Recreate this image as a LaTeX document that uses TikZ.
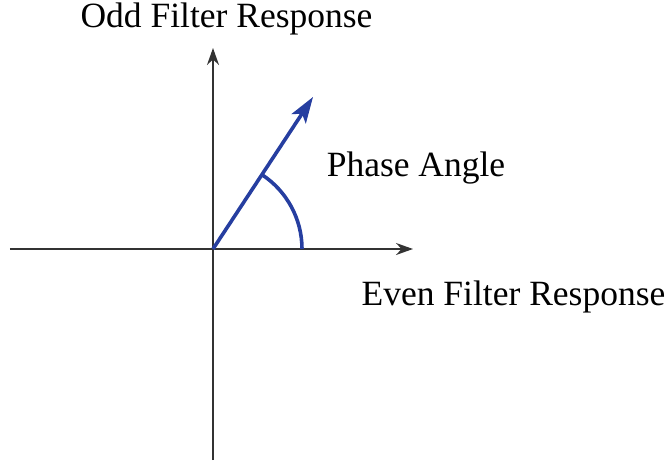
\documentclass[tikz,border=0pt]{standalone}
\usepackage{fontspec}
\setmainfont{Liberation Serif}
\usetikzlibrary{arrows.meta}
\definecolor{phaseblue}{RGB}{38,62,160}
\tikzset{axis/.style={line width=1.6pt,black!80,-{Stealth[length=17pt,width=12pt]}},
  vec/.style={line width=3.6pt,phaseblue,-{Stealth[length=26pt,width=17pt,inset=6pt]}},
  lbl/.style={font=\fontsize{35.5}{40}\selectfont,anchor=base,inner sep=0pt}}
\begin{document}
\begin{tikzpicture}[x=1pt,y=1pt]
\useasboundingbox (-213,-211) rectangle (455,249);
% Axes
\coordinate (O) at (0,0);
\coordinate (xl) at (-203,0);
\coordinate (xr) at (200,0);
\coordinate (yb) at (0,-211);
\coordinate (yt) at (0,201);
\draw[axis] (xl) -- (xr);
\draw[axis] (yb) -- (yt);
% Phase vector and angle
\coordinate (tip) at (100,152);
\draw[vec] (O) -- (tip);
\coordinate (arcstart) at (89,0);
\draw[line width=3.6pt,phaseblue] (arcstart) arc (0:56.7:89);
% Labels
\node[lbl] (odd) at (13.5,221) {Odd Filter Response};
\node[lbl] (phase) at (203,72) {Phase Angle};
\node[lbl] (even) at (300.5,-56) {Even Filter Response};
\end{tikzpicture}
\end{document}
